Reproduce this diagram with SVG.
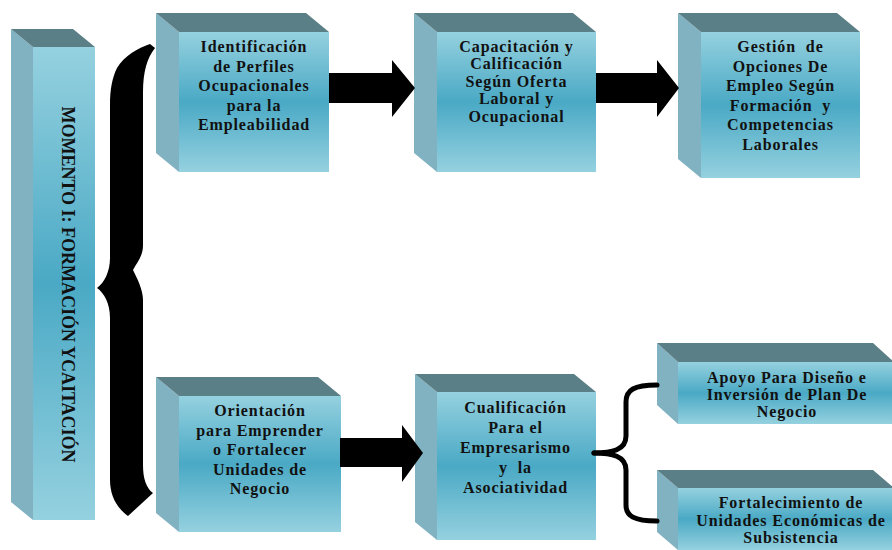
<svg xmlns="http://www.w3.org/2000/svg" width="892" height="550" viewBox="0 0 892 550">
<defs>
<linearGradient id="gf" x1="0" y1="0" x2="0" y2="1">
<stop offset="0" stop-color="#95d1df"/>
<stop offset="0.5" stop-color="#4aa9c5"/>
<stop offset="1" stop-color="#95d1df"/>
</linearGradient>
</defs>
<style>
.side{fill:#80b2c1}
.top{fill:#5b7f86}
.front{fill:url(#gf)}
.t{font-family:"Liberation Serif","Times New Roman",serif;font-weight:bold;font-size:16px;letter-spacing:0.9px;fill:#111;text-anchor:middle;white-space:pre}
.vt{font-family:"Liberation Serif","Times New Roman",serif;font-weight:bold;font-size:18px;fill:#111;text-anchor:middle}
.arrow{fill:#000}
.brace{fill:none;stroke:#000;stroke-width:5;stroke-linecap:round}
</style>
<rect width="892" height="550" fill="#fff"/>

<g id="momento">
<polygon class="side" points="11,29 33,47 33,520 11,502"/>
<polygon class="top" points="11,29 73,29 95,47 33,47"/>
<rect class="front" x="33" y="47" width="62" height="473"/>
<text class="vt" transform="translate(62,284.5) rotate(90)">MOMENTO I: FORMACIÓN YCAITACIÓN</text>
</g>

<g id="identificacion">
<polygon class="side" points="156,13 179,32 179,172 156,153"/>
<polygon class="top" points="156,13 306,13 329,32 179,32"/>
<rect class="front" x="179" y="32" width="150" height="140"/>
<text class="t" x="254" y="52">Identificación</text>
<text class="t" x="254" y="71.5">de Perfiles</text>
<text class="t" x="254" y="91">Ocupacionales</text>
<text class="t" x="254" y="110.5">para la</text>
<text class="t" x="254" y="130">Empleabilidad</text>
</g>

<g id="capacitacion">
<polygon class="side" points="414,13 437,32 437,172 414,153"/>
<polygon class="top" points="414,13 573,13 596,32 437,32"/>
<rect class="front" x="437" y="32" width="159" height="140"/>
<text class="t" x="516.5" y="51.5">Capacitación y</text>
<text class="t" x="516.5" y="69">Calificación</text>
<text class="t" x="516.5" y="86.5">Según Oferta</text>
<text class="t" x="516.5" y="104">Laboral y</text>
<text class="t" x="516.5" y="121.5">Ocupacional</text>
</g>

<g id="gestion">
<polygon class="side" points="678,13 701,32 701,178 678,159"/>
<polygon class="top" points="678,13 837,13 860,32 701,32"/>
<rect class="front" x="701" y="32" width="159" height="146"/>
<text class="t" x="780.5" y="52" xml:space="preserve">Gestión  de</text>
<text class="t" x="780.5" y="71.5">Opciones De</text>
<text class="t" x="780.5" y="91">Empleo Según</text>
<text class="t" x="780.5" y="110.5" xml:space="preserve">Formación  y</text>
<text class="t" x="780.5" y="130">Competencias</text>
<text class="t" x="780.5" y="149.5">Laborales</text>
</g>

<g id="orientacion">
<polygon class="side" points="156,377 179,396 179,532 156,513"/>
<polygon class="top" points="156,377 318,377 341,396 179,396"/>
<rect class="front" x="179" y="396" width="162" height="136"/>
<text class="t" x="260" y="416">Orientación</text>
<text class="t" x="260" y="435.5">para Emprender</text>
<text class="t" x="260" y="455">o Fortalecer</text>
<text class="t" x="260" y="474.5">Unidades de</text>
<text class="t" x="260" y="494">Negocio</text>
</g>

<g id="cualificacion">
<polygon class="side" points="415,374 437,392 437,540 415,522"/>
<polygon class="top" points="415,374 574,374 596,392 437,392"/>
<rect class="front" x="437" y="392" width="159" height="148"/>
<text class="t" x="515.5" y="413">Cualificación</text>
<text class="t" x="515.5" y="433">Para el</text>
<text class="t" x="515.5" y="453">Empresarismo</text>
<text class="t" x="515.5" y="473" xml:space="preserve">y  la</text>
<text class="t" x="515.5" y="493">Asociatividad</text>
</g>

<g id="apoyo">
<polygon class="side" points="657,343 678,362 678,424 657,405"/>
<polygon class="top" points="657,343 873,343 894,362 678,362"/>
<rect class="front" x="678" y="362" width="216" height="62"/>
<text class="t" x="787" y="383">Apoyo Para Diseño e</text>
<text class="t" x="787" y="400">Inversión de Plan De</text>
<text class="t" x="787" y="417">Negocio</text>
</g>

<g id="fortalecimiento">
<polygon class="side" points="657,470 678,488 678,550 657,532"/>
<polygon class="top" points="657,470 873,470 894,488 678,488"/>
<rect class="front" x="678" y="488" width="216" height="62"/>
<text class="t" x="791" y="508">Fortalecimiento de</text>
<text class="t" x="791" y="526">Unidades Económicas de</text>
<text class="t" x="791" y="543">Subsistencia</text>
</g>

<g id="connectors">
<path id="big-brace" fill="#000" d="M150,44 C138,48 124,56 117,68 C112,78 110,90 110,105 L110,258 C110,272 104,283 97,288 C104,293 110,303 110,318 L110,480 C110,496 117,508 128,516 L153,493 C146,488 143,478 143,465 L143,300 C143,290 137,278 133,270 C137,262 143,257 143,245 L143,92 C143,72 147,58 155,48 Z"/>
<polygon class="arrow" points="329,73 392,73 392,60 415,88 392,117 392,103 329,103"/>
<polygon class="arrow" points="596,73 657,73 657,60 679,88 657,117 657,103 596,103"/>
<polygon class="arrow" points="340,438 402,438 402,425 423,453 402,482 402,467 340,467"/>
<path class="brace" d="M594,453 C612,453 626,450 626,436 L626,402 C626,390 634,385 657,385"/>
<path class="brace" d="M594,453 C612,453 626,456 626,470 L626,505 C626,516 634,521 657,521"/>
</g>
</svg>
